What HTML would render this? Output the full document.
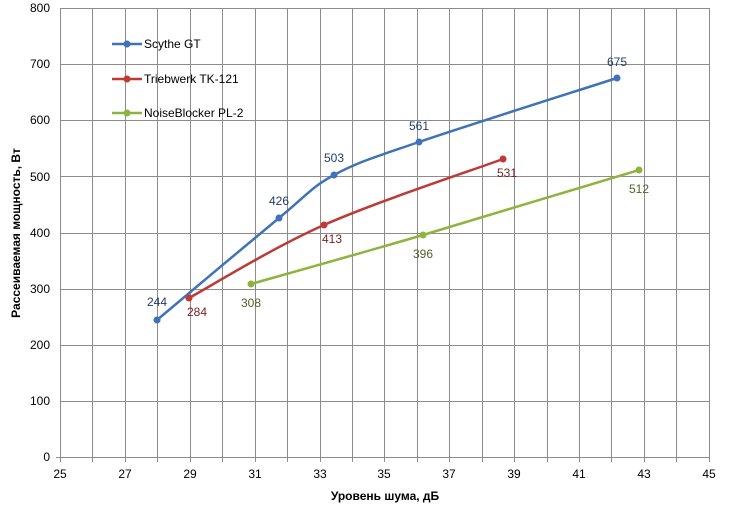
<!DOCTYPE html>
<html><head><meta charset="utf-8"><style>
html,body{margin:0;padding:0;background:#fff;}
svg{display:block;font-family:"Liberation Sans",Arial,sans-serif;}
</style></head><body>
<svg width="730" height="505" viewBox="0 0 730 505" xmlns="http://www.w3.org/2000/svg">
<rect width="730" height="505" fill="#fff"/>
<g stroke="#8c8c8c" stroke-width="1" shape-rendering="crispEdges">
<line x1="60" y1="8.5" x2="709" y2="8.5"/>
<line x1="60" y1="64.5" x2="709" y2="64.5"/>
<line x1="60" y1="120.5" x2="709" y2="120.5"/>
<line x1="60" y1="176.5" x2="709" y2="176.5"/>
<line x1="60" y1="233.5" x2="709" y2="233.5"/>
<line x1="60" y1="289.5" x2="709" y2="289.5"/>
<line x1="60" y1="345.5" x2="709" y2="345.5"/>
<line x1="60" y1="401.5" x2="709" y2="401.5"/>
<line x1="60" y1="457.5" x2="709" y2="457.5"/>
<line x1="60.5" y1="8" x2="60.5" y2="462"/>
<line x1="92.5" y1="8" x2="92.5" y2="462"/>
<line x1="125.5" y1="8" x2="125.5" y2="462"/>
<line x1="157.5" y1="8" x2="157.5" y2="462"/>
<line x1="190.5" y1="8" x2="190.5" y2="462"/>
<line x1="222.5" y1="8" x2="222.5" y2="462"/>
<line x1="255.5" y1="8" x2="255.5" y2="462"/>
<line x1="287.5" y1="8" x2="287.5" y2="462"/>
<line x1="320.5" y1="8" x2="320.5" y2="462"/>
<line x1="352.5" y1="8" x2="352.5" y2="462"/>
<line x1="384.5" y1="8" x2="384.5" y2="462"/>
<line x1="417.5" y1="8" x2="417.5" y2="462"/>
<line x1="449.5" y1="8" x2="449.5" y2="462"/>
<line x1="482.5" y1="8" x2="482.5" y2="462"/>
<line x1="514.5" y1="8" x2="514.5" y2="462"/>
<line x1="547.5" y1="8" x2="547.5" y2="462"/>
<line x1="579.5" y1="8" x2="579.5" y2="462"/>
<line x1="611.5" y1="8" x2="611.5" y2="462"/>
<line x1="644.5" y1="8" x2="644.5" y2="462"/>
<line x1="676.5" y1="8" x2="676.5" y2="462"/>
<line x1="709.5" y1="8" x2="709.5" y2="462"/>
<line x1="56" y1="457.5" x2="60" y2="457.5"/>
</g>
<g font-size="12" fill="#000" text-anchor="end">
<text x="50" y="12">800</text><text x="50" y="68">700</text><text x="50" y="124">600</text>
<text x="50" y="181">500</text><text x="50" y="237">400</text><text x="50" y="293">300</text>
<text x="50" y="349">200</text><text x="50" y="405">100</text><text x="50" y="461">0</text>
</g>
<g font-size="12" fill="#000" text-anchor="middle">
<text x="60" y="478">25</text><text x="125" y="478">27</text><text x="190" y="478">29</text>
<text x="255" y="478">31</text><text x="320" y="478">33</text><text x="384" y="478">35</text>
<text x="449" y="478">37</text><text x="514" y="478">39</text><text x="579" y="478">41</text>
<text x="644" y="478">43</text><text x="709" y="478">45</text>
</g>
<text x="385" y="500" font-size="12" font-weight="bold" text-anchor="middle">Уровень шума, дБ</text>
<text transform="translate(20,233) rotate(-90)" font-size="12" font-weight="bold" text-anchor="middle">Рассеиваемая мощность, Вт</text>

<g fill="none" stroke-width="2.5">
<path stroke="#3f72b8" d="M157,320 C177.3,303 249.5,242.2 279,218 C308.5,193.8 310.7,187.7 334,175 C357.3,162.3 371.8,158.2 419,142 C466.2,125.8 584,88.7 617,78"/>
<path stroke="#be3a36" d="M189,298 C211.5,285.8 271.7,248.2 324,225 C376.3,201.8 473.2,170 503,159"/>
<path stroke="#8db43c" d="M251,284 C279.7,275.8 358.3,254 423,235 C487.7,215.5 603,180.8 639,170"/>
</g>
<g fill="#3f72b8"><circle cx="157" cy="320" r="3.5"/><circle cx="279" cy="218" r="3.5"/><circle cx="334" cy="175" r="3.5"/><circle cx="419" cy="142" r="3.5"/><circle cx="617" cy="78" r="3.5"/></g>
<g fill="#be3a36"><circle cx="189" cy="298" r="3.5"/><circle cx="324" cy="225" r="3.5"/><circle cx="503" cy="159" r="3.5"/></g>
<g fill="#8db43c"><circle cx="251" cy="284" r="3.5"/><circle cx="423" cy="235" r="3.5"/><circle cx="639" cy="170" r="3.5"/></g>

<g font-size="12" text-anchor="middle" fill="#1f3d6b">
<text x="157" y="306">244</text><text x="279" y="205">426</text><text x="334" y="162">503</text>
<text x="419" y="130">561</text><text x="617" y="66">675</text>
</g>
<g font-size="12" text-anchor="middle" fill="#7a1f1c">
<text x="197" y="316">284</text><text x="332" y="243">413</text><text x="507" y="177">531</text>
</g>
<g font-size="12" text-anchor="middle" fill="#4f6228">
<text x="251" y="307">308</text><text x="423" y="258">396</text><text x="639" y="193">512</text>
</g>

<g stroke-width="2.5">
<line x1="112" y1="44" x2="142" y2="44" stroke="#3f72b8"/><circle cx="127" cy="44" r="3.5" fill="#3f72b8"/>
<line x1="112" y1="79" x2="142" y2="79" stroke="#be3a36"/><circle cx="127" cy="79" r="3.5" fill="#be3a36"/>
<line x1="112" y1="113" x2="142" y2="113" stroke="#8db43c"/><circle cx="127" cy="113" r="3.5" fill="#8db43c"/>
</g>
<g font-size="12" fill="#000">
<text x="144" y="48">Scythe GT</text>
<text x="144" y="83">Triebwerk TK-121</text>
<text x="144" y="117">NoiseBlocker PL-2</text>
</g>
</svg>
</body></html>
